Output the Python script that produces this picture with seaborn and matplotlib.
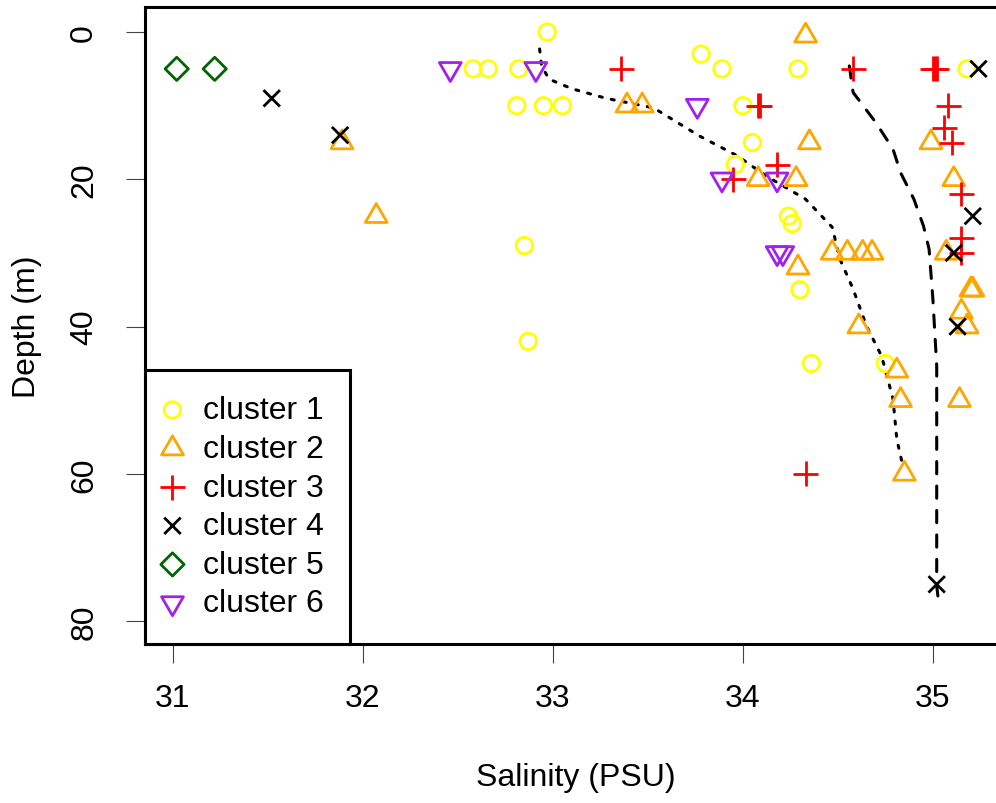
import numpy as np
import seaborn as sns
import matplotlib.pyplot as plt
from matplotlib.markers import MarkerStyle
from matplotlib.path import Path

# salinity (PSU) and depth (m) per cluster
c1_sal = [32.97, 32.58, 32.66, 32.82, 32.81, 32.95, 33.05, 33.78, 33.89, 34.29, 34.00,
          34.05, 33.96, 34.24, 34.26, 34.30, 34.36, 34.75, 35.18, 32.85, 32.87]
c1_dep = [0, 5, 5, 5, 10, 10, 10, 3, 5, 5, 10, 15, 18, 25, 26, 35, 45, 45, 5, 29, 42]

c2_sal = [31.89, 32.07, 33.39, 33.47, 34.33, 34.35, 34.99, 34.08, 34.28, 35.11, 34.47,
          34.55, 34.63, 34.68, 35.07, 34.29, 35.20, 35.21, 35.15, 35.18, 34.61, 34.81,
          34.83, 35.14, 34.85]
c2_dep = [15, 25, 10, 10, 0.5, 15, 15, 20, 20, 20, 30, 30, 30, 30, 30, 32, 35, 35, 38,
          40, 40, 46, 50, 50, 60]

c3_sal = [33.36, 34.58, 35.00, 35.01, 35.02, 34.08, 34.09, 35.08, 35.06, 35.10, 34.18,
          33.95, 35.15, 35.15, 35.15, 34.33]
c3_dep = [5, 5, 5, 5, 5, 10, 10, 10, 13, 15, 18, 20, 22, 28, 30, 60]

c4_sal = [31.52, 31.88, 35.24, 35.21, 35.11, 35.13, 35.02]
c4_dep = [9, 14, 5, 25, 30, 40, 75]

c5_sal = [31.02, 31.22]
c5_dep = [5, 5]

c6_sal = [32.46, 32.91, 33.76, 33.89, 34.18, 34.18, 34.21]
c6_dep = [5, 5, 10, 20, 20, 30, 30]

# smoothed profiles
dot_sal = [32.93, 32.94, 32.98, 33.10, 33.28, 33.53, 33.77, 33.97, 34.12, 34.33, 34.47,
           34.51, 34.58, 34.65, 34.73, 34.79, 34.81, 34.84]
dot_dep = [2.3, 4.6, 6.4, 7.7, 9.0, 10.3, 14.1, 16.8, 19.5, 22.7, 26.5, 30.8, 34.9,
           39.9, 44.0, 49.8, 55.3, 58.7]
dash_sal = [34.56, 34.58, 34.70, 34.79, 34.83, 34.90, 34.95, 34.98, 35.00, 35.02,
            35.02, 35.02, 35.03]
dash_dep = [4.6, 8.2, 12.3, 15.9, 19.1, 22.7, 26.3, 29.5, 36.3, 45.3, 55.3, 75.2, 77.4]

labels = ["cluster 1", "cluster 2", "cluster 3", "cluster 4", "cluster 5", "cluster 6"]
colors = ["#FFFF00", "#FFA500", "#FF0000", "#000000", "#006400", "#A020F0"]

# R-style triangles, centred on the centroid
tri_up = Path([(0, 1), (-0.866, -0.5), (0.866, -0.5), (0, 1)], closed=True)
tri_dn = Path([(0, -1), (-0.866, 0.5), (0.866, 0.5), (0, -1)], closed=True)
markers = [MarkerStyle("o", fillstyle="none"), MarkerStyle(tri_up, fillstyle="none"),
           MarkerStyle("+", fillstyle="none"), MarkerStyle("x", fillstyle="none"),
           MarkerStyle("D", fillstyle="none"), MarkerStyle(tri_dn, fillstyle="none")]
sizes = [140, 330, 320, 140, 140, 330]

sns.set_style("white")
plt.rcParams["font.family"] = ["Liberation Sans", "DejaVu Sans"]
plt.rcParams["text.color"] = "black"
plt.rcParams["axes.labelcolor"] = "black"
plt.rcParams["xtick.labelcolor"] = "black"
plt.rcParams["ytick.labelcolor"] = "black"
fs = 23

fig = plt.figure(figsize=(9.96, 8.04), dpi=100)
W, H = 996, 804
ax = fig.add_axes([145 / W, 1 - 645 / H, (1007 - 145) / W, (645 - 8) / H])

sns.lineplot(x=dot_sal, y=dot_dep, sort=False, estimator=None, ax=ax, color="black",
             linewidth=2.2, linestyle=(0, (1, 3)), dash_capstyle="round")
sns.lineplot(x=dash_sal, y=dash_dep, sort=False, estimator=None, ax=ax, color="black",
             linewidth=2.2, linestyle=(0, (4, 4)), dash_capstyle="round")

data = [(c1_sal, c1_dep), (c2_sal, c2_dep), (c3_sal, c3_dep),
        (c4_sal, c4_dep), (c5_sal, c5_dep), (c6_sal, c6_dep)]
for (sal, dep), lab, col, mk, s in zip(data, labels, colors, markers, sizes):
    sns.scatterplot(x=sal, y=dep, ax=ax, color=col, marker=mk, s=s,
                    linewidth=2.0, label=lab, zorder=3)

ax.set_xlim(30.853, 35.39)
ax.set_ylim(83.1, -3.4)
ax.set_xticks([31, 32, 33, 34, 35])
ax.set_yticks([0, 20, 40, 60, 80])
for sp in ax.spines.values():
    sp.set_linewidth(2.2)
    sp.set_color("black")
ax.tick_params(axis="both", which="major", length=14, width=0.8, color="#444444",
               labelsize=fs, labelcolor="black", direction="out", left=True, bottom=True)
ax.tick_params(axis="x", pad=14)
ax.tick_params(axis="y", pad=19)
for t in ax.get_yticklabels():
    t.set_rotation(90)
    t.set_va("center")

ax.set_xlabel("Salinity (PSU)", fontsize=fs, color="black")
ax.set_ylabel("Depth (m)", fontsize=fs, color="black")
ax.xaxis.set_label_coords(0.5, -0.185)
ax.yaxis.set_label_coords(-0.12, 0.5)

leg = ax.legend(loc="lower left", bbox_to_anchor=(0, 0), borderaxespad=0,
                fontsize=fs, frameon=True, fancybox=False, framealpha=1,
                edgecolor="black", borderpad=0.8, handlelength=0.12,
                handletextpad=0.9, labelspacing=0.27, scatterpoints=1)
leg.get_frame().set_linewidth(2.2)
for t in leg.get_texts():
    t.set_color("black")

fig.savefig("out.png", dpi=100)
